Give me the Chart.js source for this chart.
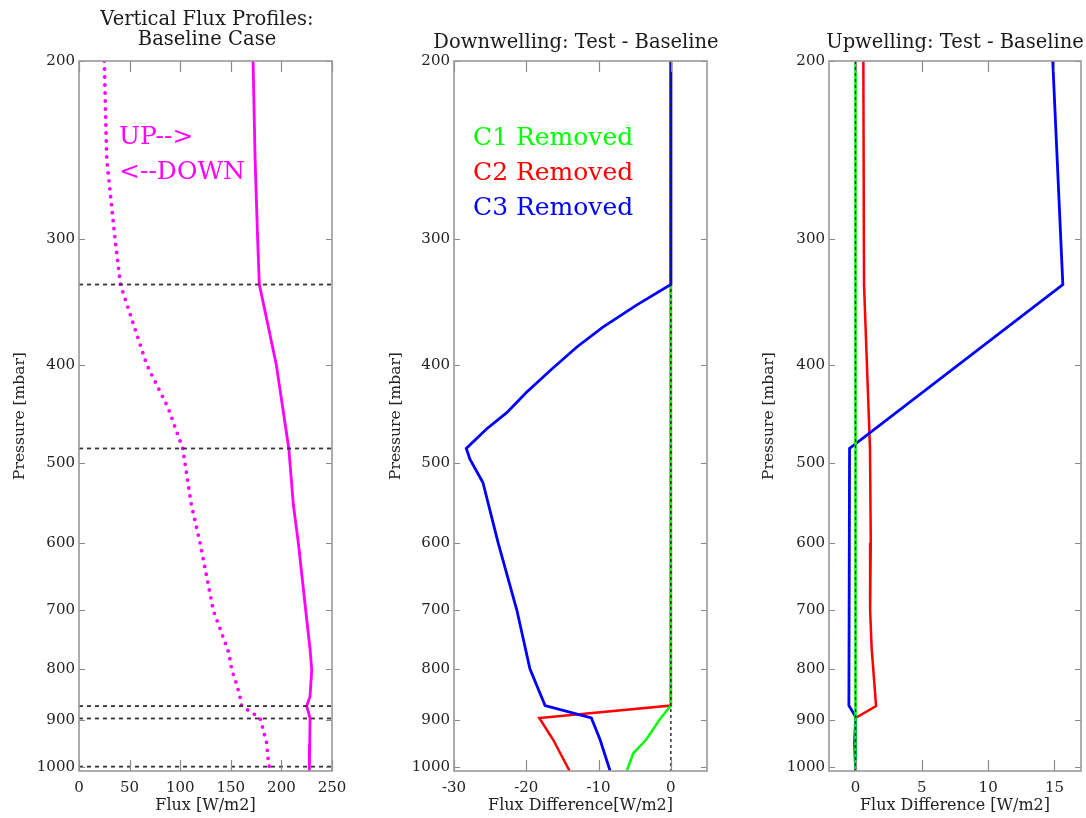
<!DOCTYPE html>
<html>
<head>
<meta charset="utf-8">
<script src="https://cdn.jsdelivr.net/npm/chart.js@4.4.1/dist/chart.umd.min.js"></script>
<style>
html,body{margin:0;padding:0;background:#fff;overflow:hidden;width:1086px;height:818px}
canvas{position:absolute;left:0;top:0}
</style>
</head>
<body>
<canvas id="c1" width="1086" height="818"></canvas>
<canvas id="c2" width="1086" height="818"></canvas>
<canvas id="c3" width="1086" height="818"></canvas>
<script>
// ---------- shared pressure axis ----------
const pressureTicks = [200, 300, 400, 500, 600, 700, 800, 900, 1000];
const pressureMin = 200;
const pressureMax = 1010;

// ---------- panel 1: vertical flux profiles (baseline) ----------
const fluxTicks = [0, 50, 100, 150, 200, 250];
const upPressure = [200, 250, 300, 333, 360, 400, 441, 484, 550, 600, 700, 765, 802, 852, 871, 895, 950, 1010];
const upFlux     = [172, 174, 176.5, 178.2, 185.4, 195, 201.3, 207.3, 211.8, 216.7, 224, 228.3, 230, 228.3, 225, 228.3, 228, 227.6];
const downPressure = [200, 250, 300, 333, 360, 400, 441, 484, 550, 600, 700, 771, 802, 829, 852, 871, 895, 919, 947, 985, 1010];
const downFlux     = [25, 27.4, 35.6, 41, 52, 67, 88, 102.5, 111, 119.6, 132.7, 148, 151, 155.8, 159, 160.8, 178.9, 182, 185.4, 187, 188.7];
const layerPressures = [333, 484, 871, 896, 1000];

// ---------- panel 2: downwelling test - baseline ----------
const downDiffTicks = [-30, -20, -10, 0];
const downDiffRange = [-30, 5];
const dnC1Pressure = [200, 870, 897, 940, 970, 1010];
const dnC1Diff     = [0, 0, -1.5, -3.4, -5.2, -6.1];
const dnC2Pressure = [200, 870, 895, 940, 1010];
const dnC2Diff     = [0, 0, -18.2, -16.3, -14.0];
const dnC3Pressure = [200, 333, 349, 367, 384, 404, 426, 446, 463, 484, 496, 523, 600, 700, 800, 870, 895, 940, 1010];
const dnC3Diff     = [0, 0, -4.75, -9.4, -13.0, -16.5, -20.0, -22.7, -25.5, -28.3, -27.8, -26.0, -23.9, -21.3, -19.5, -17.4, -11.0, -9.8, -8.4];

// ---------- panel 3: upwelling test - baseline ----------
const upDiffTicks = [0, 5, 10, 15];
const upDiffRange = [-2, 17];
const upC1Pressure = [200, 1010];
const upC1Diff     = [0, 0];
const upC2Pressure = [200, 333, 484, 600, 700, 765, 871, 895, 947, 1010];
const upC2Diff     = [0.59, 0.64, 1.09, 1.15, 1.1, 1.22, 1.55, 0.0, -0.1, 0.0];
const upC3Pressure = [200, 333, 484, 870, 892, 1010];
const upC3Diff     = [14.87, 15.63, -0.45, -0.5, 0, 0];

const seriesNames = ['C1 Removed', 'C2 Removed', 'C3 Removed'];
const seriesColors = ['#00ff00', '#ff0000', '#0000ff'];

const FONT = "'DejaVu Serif', 'Liberation Serif', serif";
const pts = (xs, ps) => xs.map((v, i) => ({x: v, y: ps[i]}));

const framePlugin = {
  id: 'frame',
  afterDraw(chart) {
    const {ctx, chartArea: a, scales} = chart;
    ctx.save();
    ctx.strokeStyle = '#8a8a8a';
    ctx.lineWidth = 1.2;
    ctx.beginPath();
    scales.x.ticks.forEach(t => {
      const px = Math.round(scales.x.getPixelForValue(t.value)) + 0.5;
      ctx.moveTo(px, a.top); ctx.lineTo(px, a.top + 11);
      ctx.moveTo(px, a.bottom); ctx.lineTo(px, a.bottom - 11);
    });
    scales.y.ticks.forEach(t => {
      const py = Math.round(scales.y.getPixelForValue(t.value)) + 0.5;
      ctx.moveTo(a.left, py); ctx.lineTo(a.left + 6, py);
      ctx.moveTo(a.right, py); ctx.lineTo(a.right - 6, py);
    });
    ctx.stroke();
    ctx.strokeStyle = '#999999';
    ctx.lineWidth = 1.6;
    ctx.strokeRect(a.left, a.top, a.right - a.left, a.bottom - a.top);
    ctx.restore();
  }
};

// in-plot series labels and panel titles (drawn as canvas text, no width squeezing)
const labelPlugin = {
  id: 'inPlotLabels',
  afterDraw(chart, args, opts) {
    if (!opts) return;
    const {ctx, chartArea: a} = chart;
    ctx.save();
    ctx.textBaseline = 'middle';
    if (opts.title) {
      ctx.font = opts.titleFont;
      ctx.fillStyle = '#1a1a1a';
      ctx.textAlign = 'center';
      const cx = (a.left + a.right) / 2 + opts.titleShift;
      opts.title.forEach((line, i) => ctx.fillText(line, cx, opts.titleY + i * opts.titleLineGap));
    }
    ctx.font = opts.font;
    ctx.textAlign = 'left';
    (opts.items || []).forEach(it => {
      ctx.fillStyle = it.color;
      ctx.fillText(it.text, a.left + it.dx, a.top + it.dy);
    });
    ctx.restore();
  }
};

function makePanel(id, cfg) {
  return new Chart(document.getElementById(id), {
    type: 'line',
    data: {datasets: cfg.datasets},
    plugins: [framePlugin, labelPlugin],
    options: {
      responsive: false,
      animation: false,
      events: [],
      indexAxis: 'y',
      layout: {padding: {left: cfg.padLeft, right: cfg.padRight, top: 61, bottom: 0}},
      elements: {point: {radius: 0}, line: {tension: 0}},
      plugins: {
        legend: {display: false},
        tooltip: {enabled: false},
        title: {display: false, text: cfg.title},
        inPlotLabels: {
          font: cfg.labelFont, items: cfg.labels,
          title: cfg.title, titleFont: "19.5px " + FONT, titleShift: cfg.titleShift,
          titleY: cfg.titleY, titleLineGap: 20
        }
      },
      scales: {
        x: {
          type: 'linear',
          min: cfg.xRange[0],
          max: cfg.xRange[1],
          afterBuildTicks: s => { s.ticks = cfg.xTicks.map(v => ({value: v})); },
          afterFit: s => { s.height = 47; },
          grid: {display: false, drawTicks: false},
          border: {display: false},
          ticks: {font: {family: FONT, size: 15}, color: '#222', padding: 8, autoSkip: false, maxRotation: 0, minRotation: 0},
          title: {display: true, text: cfg.xTitle, color: '#222', font: {family: FONT, size: 16, lineHeight: 1.1}, padding: {top: 0, bottom: 3}}
        },
        y: {
          type: 'logarithmic',
          reverse: true,
          min: pressureMin,
          max: pressureMax,
          afterBuildTicks: s => { s.ticks = pressureTicks.map(v => ({value: v})); },
          afterFit: s => { s.width = cfg.yWidth; },
          grid: {display: false, drawTicks: false},
          border: {display: false},
          ticks: {font: {family: FONT, size: 15}, color: '#222', padding: 4, autoSkip: false, callback: v => String(v)},
          title: {display: true, text: 'Pressure [mbar]', color: '#222', font: {family: FONT, size: 15.5, lineHeight: 1.1}, padding: {top: cfg.yTitlePad, bottom: 0}}
        }
      }
    }
  });
}

const layerDatasets = layerPressures.map(p => ({
  label: 'layer ' + p,
  data: [{x: fluxTicks[0], y: p}, {x: fluxTicks[fluxTicks.length - 1], y: p}],
  borderColor: '#333', borderWidth: 1.8, borderDash: [4, 4], pointRadius: 0
}));

// Panel 1
makePanel('c1', {
  padLeft: 0, padRight: 1086 - 332, yWidth: 79, yTitlePad: 11.2,
  title: ['Vertical Flux Profiles:', 'Baseline Case'], titleY: 20, titleShift: 1.5,
  xRange: [fluxTicks[0], fluxTicks[fluxTicks.length - 1]], xTicks: fluxTicks,
  xTitle: 'Flux [W/m2]',
  labelFont: "25px " + FONT,
  labels: [
    {text: 'UP-->', color: '#ff00ff', dx: 40, dy: 76},
    {text: '<--DOWN', color: '#ff00ff', dx: 40, dy: 111}
  ],
  datasets: [
    ...layerDatasets,
    {label: 'UP-->', data: pts(upFlux, upPressure), borderColor: '#ff00ff', borderWidth: 2.8, pointRadius: 0},
    {label: '<--DOWN', data: pts(downFlux, downPressure), borderColor: '#ff00ff', borderWidth: 3.8, borderDash: [0, 8], borderCapStyle: 'round', pointRadius: 0}
  ]
});

// Panel 2
const zeroLine = () => ({label: 'zero', data: [{x: 0, y: pressureMin}, {x: 0, y: pressureMax}], borderColor: '#222', borderWidth: 1.4, borderDash: [3, 3], pointRadius: 0});
makePanel('c2', {
  padLeft: 380, padRight: 1086 - 707, yWidth: 74, yTitlePad: 7,
  title: ['Downwelling: Test - Baseline'], titleY: 43, titleShift: -4.5,
  xRange: downDiffRange, xTicks: downDiffTicks,
  xTitle: 'Flux Difference[W/m2]',
  labelFont: "25px " + FONT,
  labels: seriesNames.map((n, i) => ({text: n, color: seriesColors[i], dx: 19, dy: 77 + 35 * i})),
  datasets: [
    zeroLine(),
    {label: seriesNames[2], data: pts(dnC3Diff, dnC3Pressure), borderColor: seriesColors[2], borderWidth: 2.8, pointRadius: 0},
    {label: seriesNames[0], data: pts(dnC1Diff, dnC1Pressure), borderColor: seriesColors[0], borderWidth: 2.5, pointRadius: 0},
    {label: seriesNames[1], data: pts(dnC2Diff, dnC2Pressure), borderColor: seriesColors[1], borderWidth: 2.5, pointRadius: 0}
  ]
});

// Panel 3
makePanel('c3', {
  padLeft: 755, padRight: 1086 - 1081, yWidth: 74, yTitlePad: 5,
  title: ['Upwelling: Test - Baseline'], titleY: 43, titleShift: 0,
  xRange: upDiffRange, xTicks: upDiffTicks,
  xTitle: 'Flux Difference [W/m2]',
  labelFont: "25px " + FONT,
  labels: [],
  datasets: [
    zeroLine(),
    {label: seriesNames[0], data: pts(upC1Diff, upC1Pressure), borderColor: seriesColors[0], borderWidth: 2.5, pointRadius: 0},
    {label: seriesNames[2], data: pts(upC3Diff, upC3Pressure), borderColor: seriesColors[2], borderWidth: 2.8, pointRadius: 0},
    {label: seriesNames[1], data: pts(upC2Diff, upC2Pressure), borderColor: seriesColors[1], borderWidth: 2.5, pointRadius: 0}
  ]
});
</script>
</body>
</html>
